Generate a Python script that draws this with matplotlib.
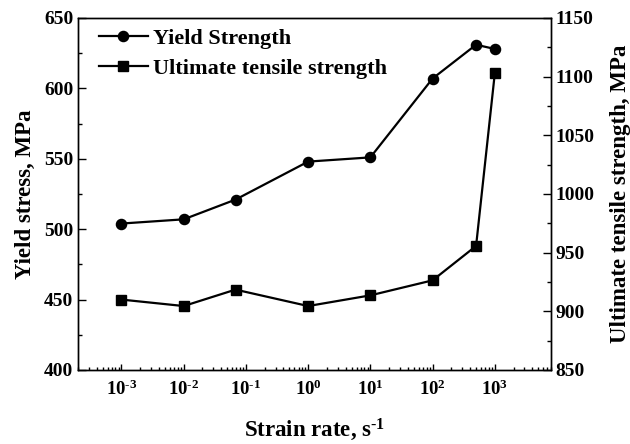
import numpy as np
import matplotlib
matplotlib.use("Agg")
import matplotlib.pyplot as plt
from matplotlib.ticker import LogLocator, MultipleLocator, FixedLocator, NullFormatter

plt.rcParams["font.family"] = "Liberation Serif"
plt.rcParams["font.weight"] = "bold"
plt.rcParams["mathtext.fontset"] = "custom"
plt.rcParams["mathtext.rm"] = "Liberation Serif:bold"
plt.rcParams["mathtext.bf"] = "Liberation Serif:bold"
plt.rcParams["mathtext.default"] = "bf"

# strain rates (1/s) and measured strengths (MPa)
strain_rate = [1e-3, 1e-2, 0.068, 1, 10, 100, 500, 1000]
yield_strength = [504, 507, 521, 548, 551, 607, 631, 628]
uts = [910, 904.5, 918.5, 904.5, 913.6, 926.4, 955.7, 1102.8]

decades = [-3, -2, -1, 0, 1, 2, 3]
xtick_labels = [r"$10^{\text{%d}}$" % d for d in decades]

fig = plt.figure(figsize=(6.3, 4.44), dpi=100)
ax = fig.add_axes([0.1238, 0.1667, 0.7508, 0.7928])
ax2 = ax.twinx()

l1, = ax.plot(strain_rate, yield_strength, "-o", color="black", lw=1.6,
              ms=7.3, label="Yield Strength")
l2, = ax2.plot(strain_rate, uts, "-s", color="black", lw=1.6,
               ms=6.8, label="Ultimate tensile strength")

ax.set_xscale("log")
ax.set_xlim(2e-4, 8e3)
ax.set_ylim(400, 650)
ax2.set_ylim(850, 1150)

ax.xaxis.set_major_locator(FixedLocator([10.0 ** d for d in decades]))
ax.set_xticklabels(xtick_labels)
ax.xaxis.set_minor_locator(LogLocator(base=10, subs=np.arange(2, 10)))
ax.xaxis.set_minor_formatter(NullFormatter())

ax.yaxis.set_major_locator(MultipleLocator(50))
ax.yaxis.set_minor_locator(MultipleLocator(25))
ax2.yaxis.set_major_locator(MultipleLocator(50))
ax2.yaxis.set_minor_locator(MultipleLocator(25))

for a in (ax, ax2):
    a.tick_params(which="major", direction="in", length=6, width=1,
                  labelsize=14)
    a.tick_params(which="minor", direction="in", length=3, width=1)
    for s in a.spines.values():
        s.set_linewidth(1)
ax.tick_params(axis="x", which="major", length=4, pad=7, labelsize=13.5)
ax.tick_params(axis="x", which="minor", length=2.5)

ax.set_xlabel(r"Strain rate, s$^{\text{-1}}$", fontsize=16.5, fontweight="bold",
              labelpad=13)
ax.set_ylabel("Yield stress, MPa", fontsize=16.5, fontweight="bold", labelpad=6)
ax2.set_ylabel("Ultimate tensile strength, MPa", fontsize=16.5,
               fontweight="bold", labelpad=11)

ax.legend(handles=[l1, l2], loc="upper left", bbox_to_anchor=(0.025, 0.995),
          frameon=False, numpoints=1, prop={"size": 16, "weight": "bold"},
          handlelength=2.2, handletextpad=0.25, borderaxespad=0,
          labelspacing=0.4)

fig.savefig("out.png", dpi=100)
